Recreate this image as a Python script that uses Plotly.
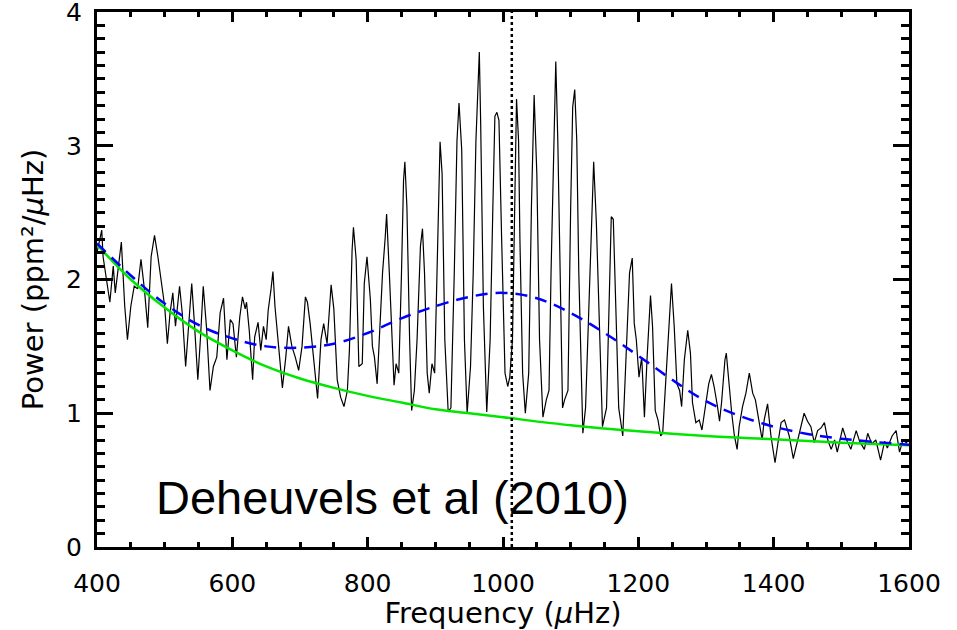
import plotly.graph_objects as go

# Observed power spectrum (frequency in microHz, power in ppm^2/microHz)
freq = [400, 402, 407, 409, 414, 419, 424, 427, 431, 436, 441, 445, 450, 455, 460, 465, 470, 475, 480, 485,
        490, 495, 500, 504, 508, 512, 516, 522, 526, 531, 535, 540, 544, 549, 553, 557, 562, 567, 572, 577,
        582, 587, 592, 597, 601, 606, 611, 615, 619, 621, 625, 630, 633, 638, 642, 646, 650, 653, 657, 660,
        663, 667, 670, 674, 679, 683, 688, 693, 698, 703, 708, 711, 715, 720, 726, 731, 735, 740, 746, 750,
        755, 760, 765, 770, 773, 777, 779, 783, 787, 792, 795, 799, 804, 807, 810, 814, 817, 822, 826, 828,
        832, 836, 839, 842, 846, 850, 853, 855, 858, 862, 865, 869, 873, 878, 881, 884, 888, 891, 895, 899,
        903, 907, 910, 914, 919, 923, 928, 932, 935, 939, 943, 947, 952, 956, 960, 965, 967, 971, 976, 981,
        985, 988, 991, 994, 998, 1003, 1007, 1010, 1014, 1017, 1020, 1023, 1025, 1029, 1033, 1038, 1042, 1046, 1050, 1054,
        1059, 1064, 1068, 1071, 1075, 1078, 1081, 1084, 1088, 1091, 1096, 1100, 1103, 1106, 1109, 1112, 1116, 1118, 1122, 1128,
        1132, 1134, 1138, 1142, 1147, 1153, 1157, 1160, 1163, 1167, 1171, 1177, 1182, 1187, 1191, 1194, 1197, 1201, 1205, 1209,
        1213, 1218, 1221, 1225, 1229, 1233, 1236, 1241, 1246, 1249, 1253, 1257, 1261, 1264, 1268, 1273, 1277, 1280, 1285, 1290,
        1294, 1299, 1304, 1308, 1312, 1317, 1320, 1323, 1328, 1330, 1334, 1338, 1342, 1346, 1349, 1354, 1359, 1364, 1369, 1373,
        1378, 1383, 1386, 1391, 1396, 1402, 1407, 1411, 1416, 1423, 1429, 1435, 1442, 1445, 1450, 1455, 1460, 1465, 1470, 1475,
        1480, 1485, 1490, 1494, 1502, 1507, 1514, 1522, 1527, 1534, 1539, 1545, 1551, 1558, 1564, 1568, 1575, 1581, 1586, 1591,
        1596, 1600]
power = [2.20, 2.25, 2.37, 2.17, 2.00, 1.83, 2.10, 1.90, 2.07, 2.28, 1.80, 1.55, 1.80, 1.95, 1.93, 2.15, 1.93, 1.64, 2.17, 2.33,
         2.17, 1.97, 1.80, 1.52, 1.75, 1.90, 1.65, 1.95, 1.75, 1.35, 1.65, 1.97, 1.67, 1.25, 1.57, 1.95, 1.63, 1.17, 1.35, 1.42,
         1.75, 1.86, 1.40, 1.70, 1.67, 1.42, 1.72, 1.87, 1.78, 1.83, 1.62, 1.25, 1.57, 1.68, 1.47, 1.65, 1.55, 1.77, 1.92, 2.06,
         1.80, 1.57, 1.40, 1.19, 1.42, 1.65, 1.50, 1.42, 1.32, 1.50, 1.87, 1.83, 1.67, 1.42, 1.11, 1.55, 1.67, 1.52, 1.96, 1.78,
         1.25, 1.12, 1.05, 1.17, 1.47, 2.22, 2.39, 2.15, 1.35, 1.37, 1.97, 2.17, 1.85, 1.50, 1.42, 1.22, 1.55, 2.05, 2.32, 2.49,
         2.05, 1.55, 1.21, 1.37, 1.30, 2.05, 2.74, 2.88, 2.54, 1.55, 1.02, 1.17, 1.55, 2.25, 2.38, 2.05, 1.30, 1.15, 1.37, 1.30,
         2.20, 3.03, 2.79, 1.55, 1.01, 1.04, 2.05, 3.04, 3.32, 2.97, 1.55, 1.00, 1.35, 2.05, 3.04, 3.70, 3.17, 1.80, 1.01, 1.55,
         2.54, 3.22, 3.25, 3.19, 2.30, 1.30, 1.20, 1.27, 1.55, 2.54, 3.35, 3.04, 2.30, 1.30, 1.00, 1.30, 2.54, 3.38, 2.79, 1.55,
         0.97, 1.10, 1.17, 2.05, 3.04, 3.63, 3.04, 2.05, 1.04, 1.10, 1.17, 2.54, 3.29, 3.42, 3.04, 2.05, 1.15, 0.85, 1.04, 1.92,
         2.67, 2.88, 2.42, 1.67, 0.90, 1.04, 1.92, 2.47, 2.45, 1.80, 1.04, 0.83, 1.42, 2.05, 2.16, 1.67, 1.55, 1.27, 1.42, 0.97,
         1.42, 1.88, 1.65, 1.02, 0.95, 0.83, 0.85, 1.27, 1.77, 1.97, 1.65, 1.22, 1.17, 1.05, 1.40, 1.62, 1.45, 1.08, 0.93, 0.95,
         0.875, 1.05, 1.22, 1.29, 1.20, 1.05, 0.94, 1.08, 1.40, 1.45, 1.22, 1.00, 0.83, 0.73, 0.90, 1.05, 1.15, 1.30, 1.15, 1.10,
         0.95, 0.80, 0.95, 1.07, 0.83, 0.63, 0.80, 0.93, 0.95, 0.83, 0.66, 0.78, 0.93, 1.00, 0.94, 0.90, 0.78, 0.87, 0.89, 0.93,
         0.80, 0.73, 0.80, 0.71, 0.89, 0.81, 0.73, 0.87, 0.79, 0.73, 0.85, 0.77, 0.80, 0.65, 0.79, 0.74, 0.83, 0.87, 0.71, 0.80,
         0.78, 0.80]

# Background fit (green)
bg_freq = [400, 450, 500, 550, 600, 650, 700, 750, 800, 850, 900, 950, 1000, 1100, 1200, 1300, 1400, 1500, 1600]
bg_power = [2.26, 2.00, 1.79, 1.61, 1.47, 1.35, 1.26, 1.19, 1.13, 1.08, 1.03, 1.00, 0.97, 0.91, 0.865, 0.83, 0.805, 0.78, 0.76]

# Background + Gaussian envelope fit (blue dashed)
env_freq = [400, 450, 500, 550, 600, 650, 700, 750, 800, 850, 900, 950, 1000, 1050, 1100, 1150, 1200, 1250, 1300,
            1350, 1400, 1450, 1500, 1550, 1600]
env_power = [2.27, 2.03, 1.82, 1.66, 1.56, 1.50, 1.49, 1.52, 1.60, 1.71, 1.80, 1.87, 1.90, 1.86, 1.75, 1.60, 1.43, 1.25,
             1.09, 0.98, 0.90, 0.845, 0.81, 0.785, 0.765]

numax = 1013
x_ticks = [400, 600, 800, 1000, 1200, 1400, 1600]
y_ticks = [0, 1, 2, 3, 4]

fig = go.Figure()
fig.add_trace(go.Scatter(x=freq, y=power, mode="lines",
                         line=dict(color="black", width=1.2), showlegend=False))
fig.add_trace(go.Scatter(x=bg_freq, y=bg_power, mode="lines", line_shape="spline",
                         line=dict(color="#00e600", width=2.5), showlegend=False))
fig.add_trace(go.Scatter(x=env_freq, y=env_power, mode="lines", line_shape="spline",
                         line=dict(color="#0000ff", width=2.5, dash="12px,8px"), showlegend=False))
fig.add_trace(go.Scatter(x=[numax, numax], y=[0, 4], mode="lines",
                         line=dict(color="black", width=2.5, dash="dot"), showlegend=False))

fig.add_annotation(x=484, y=0.16, xref="x", yref="y", xanchor="left", yanchor="bottom",
                   text="Deheuvels et al (2010)", showarrow=False,
                   font=dict(family="Liberation Sans, Arial", size=47, color="black"))

tick_font = dict(family="DejaVu Sans", size=25, color="black")
title_font = dict(family="DejaVu Sans", size=29, color="black")
fig.update_layout(
    width=957, height=630,
    margin=dict(l=97, r=48, t=12, b=83),
    plot_bgcolor="white", paper_bgcolor="white",
    xaxis=dict(range=[400, 1600], tickvals=x_ticks, ticks="inside", ticklen=10, tickwidth=2.5,
               tickcolor="black", showline=True, linewidth=3, linecolor="black", mirror="allticks",
               showgrid=False, zeroline=False, tickfont=tick_font, automargin=False,
               ticklabelstandoff=12, ticklabeloverflow="allow",
               minor=dict(dtick=50, ticks="inside", ticklen=5, tickwidth=2.5, tickcolor="black", showgrid=False),
               title=dict(text="Frequency (<i>μ</i>Hz)", font=title_font, standoff=4)),
    yaxis=dict(range=[0, 4], tickvals=y_ticks, ticks="inside", ticklen=16, tickwidth=2.5,
               tickcolor="black", showline=True, linewidth=3, linecolor="black", mirror="allticks",
               showgrid=False, zeroline=False, tickfont=tick_font, automargin=False,
               ticklabelstandoff=7, ticklabeloverflow="allow",
               minor=dict(dtick=0.1, ticks="inside", ticklen=8, tickwidth=2.5, tickcolor="black", showgrid=False),
               title=dict(text="Power (ppm²/<i>μ</i>Hz)", font=title_font, standoff=14)),
)

fig.write_html("out.html", config={"displayModeBar": False},
               post_script="document.body.style.margin='0';document.body.style.overflow='hidden';")
